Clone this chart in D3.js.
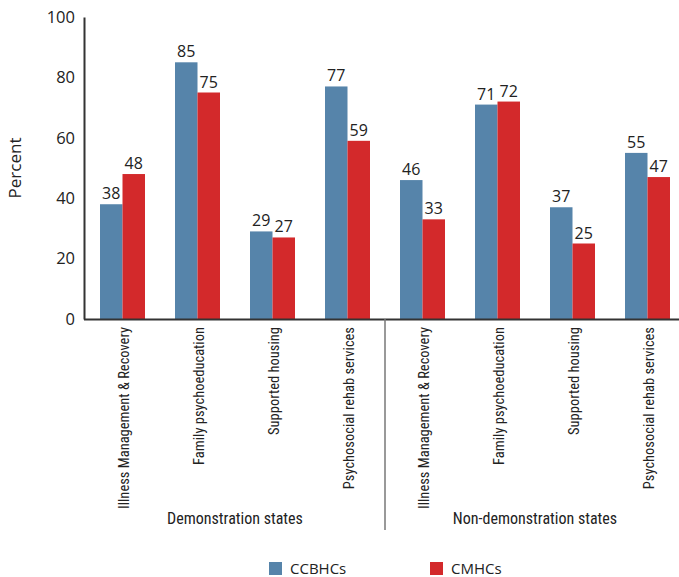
<!DOCTYPE html>
<html><head><meta charset="utf-8">
<script src="https://cdn.jsdelivr.net/npm/d3@7"></script>
<style>body{margin:0;background:#fff}svg{display:block}</style>
</head><body>
<svg id="c" width="679" height="577"></svg>
<script>
const services = ["Illness Management & Recovery","Family psychoeducation","Supported housing","Psychosocial rehab services"];
const groups = ["Demonstration states","Non-demonstration states"];
const seriesNames = ["CCBHCs","CMHCs"];
const ccbhc = [38,85,29,77,46,71,37,55];
const cmhc = [48,75,27,59,33,72,25,47];
const yTicks = [0,20,40,60,80,100];
const colors = ["#5684aa","#d3292b"];

const svg = d3.select("#c");
const cats = d3.range(8);
const x = d3.scaleBand().domain(cats).range([85,685]).paddingInner(0.4).paddingOuter(0.2);
const xs = d3.scaleBand().domain([0,1]).range([0,x.bandwidth()]);
const y = d3.scaleLinear().domain([0,100]).range([319,17]);
const font = "'Open Sans', sans-serif";
const cond = "'Liberation Sans Narrow', 'Roboto Condensed', sans-serif";

// bars
const data = cats.map(i=>[ccbhc[i],cmhc[i]]);
const g = svg.append("g");
cats.forEach(i=>{
  data[i].forEach((v,s)=>{
    const bx = x(i)+xs(s);
    g.append("rect").attr("x",bx).attr("y",y(v)).attr("width",xs.bandwidth()).attr("height",y(0)-y(v)).attr("fill",colors[s]);
    g.append("text").attr("x",bx+xs.bandwidth()/2).attr("y",y(v)-5).attr("text-anchor","middle")
      .attr("font-family",font).attr("font-size",16).attr("fill","#222").text(v);
  });
});

// y axis
const ya = svg.append("g").attr("transform","translate(84,0)").call(d3.axisLeft(y).tickValues(yTicks).tickSize(0).tickPadding(9));
ya.select(".domain").attr("stroke","#333").attr("stroke-width",2);
ya.selectAll("text").attr("font-family",font).attr("font-size",16.5).attr("fill","#222");
// baseline
svg.append("line").attr("x1",84).attr("x2",679).attr("y1",y(0)+0.5).attr("y2",y(0)+0.5).attr("stroke","#333").attr("stroke-width",2);

svg.append("text").attr("transform","translate(21,"+y(50)+") rotate(-90)").attr("text-anchor","middle")
  .attr("font-family",font).attr("font-size",17).attr("fill","#222").text("Percent");

// category labels
cats.forEach(i=>{
  const cx = x(i)+x.bandwidth()/2;
  svg.append("text").attr("transform","translate("+(cx+1)+",327) rotate(-90)").attr("text-anchor","end")
    .attr("dy","0.35em").attr("font-family",cond).attr("font-size",14.5).attr("fill","#222").text(services[i%4]);
});

// divider
const dx = (x(3)+x.bandwidth()+x(4))/2;
svg.append("line").attr("x1",dx).attr("x2",dx).attr("y1",y(0)).attr("y2",530).attr("stroke","#777").attr("stroke-width",1.5);

// group labels
groups.forEach((gname,k)=>{
  const cx = (x(k*4)+x(k*4+3)+x.bandwidth())/2;
  svg.append("text").attr("x",cx).attr("y",524).attr("text-anchor","middle")
    .attr("font-family",cond).attr("font-size",16).attr("fill","#222").text(gname);
});

// legend
const lx = [269,430];
seriesNames.forEach((n,s)=>{
  svg.append("rect").attr("x",lx[s]).attr("y",562).attr("width",13).attr("height",13).attr("fill",colors[s]);
  svg.append("text").attr("x",lx[s]+21).attr("y",574).attr("font-family",font).attr("font-size",15).attr("fill","#222").text(n);
});
</script>
</body></html>
